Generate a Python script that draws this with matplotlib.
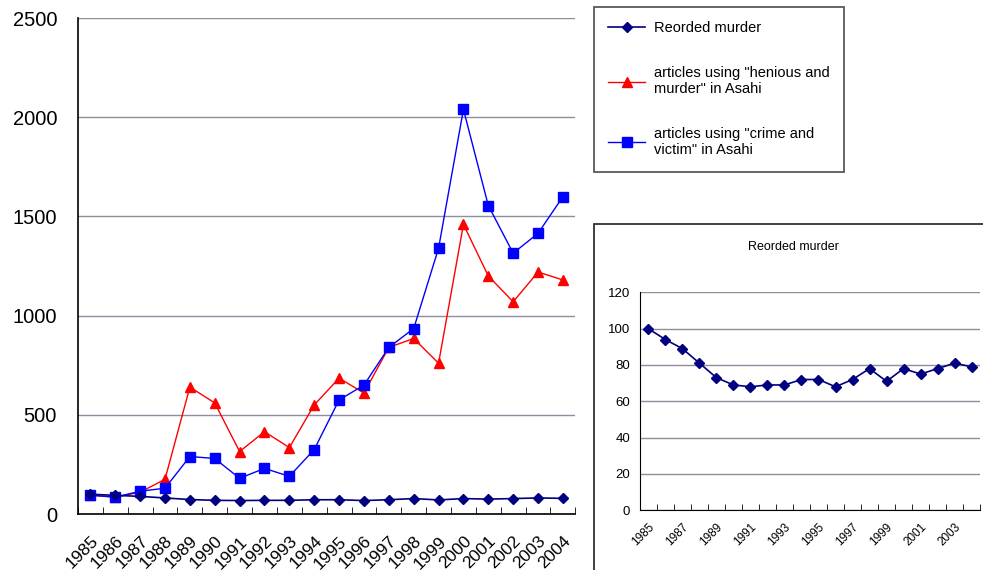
import matplotlib
matplotlib.use("Agg")
import matplotlib.pyplot as plt
import numpy as np
from matplotlib.patches import Rectangle

plt.rcParams['font.family'] = ['Liberation Sans', 'DejaVu Sans']

# data
years = [str(y) for y in range(1985, 2005)]
murder = [100, 94, 89, 81, 73, 69, 68, 69, 69, 72, 72, 68, 72, 78, 71, 78, 75, 78, 81, 79]
henious = [95, 85, 110, 175, 640, 560, 315, 415, 335, 550, 685, 610, 840, 885, 760, 1460, 1200, 1070, 1220, 1180]
crime = [95, 85, 115, 130, 290, 280, 180, 230, 190, 325, 575, 650, 840, 935, 1340, 2040, 1555, 1315, 1415, 1600]

lab_murder = "Reorded murder"
lab_henious = 'articles using "henious and\nmurder" in Asahi'
lab_crime = 'articles using "crime and\nvictim" in Asahi'

navy = '#000080'
red = '#ff0000'
blue = '#0000ff'
grid_c = '#8e8e9e'

fig = plt.figure(figsize=(9.83, 5.70), dpi=100)
x = np.arange(len(years))

# main chart
ax = fig.add_axes([0.0793, 0.0982, 0.506, 0.870])
ax.plot(x, murder, color=navy, marker='D', ms=5, lw=1.2, label=lab_murder, zorder=3)
ax.plot(x, henious, color=red, marker='^', ms=7, lw=1.0, label=lab_henious, zorder=2)
ax.plot(x, crime, color=blue, marker='s', ms=7, lw=1.0, label=lab_crime, zorder=2.5)
ax.set_xlim(-0.5, len(years) - 0.5)
ax.set_ylim(0, 2500)
ax.set_yticks(range(0, 2501, 500))
ax.tick_params(axis='y', labelsize=14.5, length=0, pad=15)
ax.set_xticks(x)
ax.set_xticklabels(years, rotation=45, ha='right', rotation_mode='anchor', fontsize=12.5)
ax.tick_params(axis='x', which='major', length=0, pad=14)
ax.set_xticks(np.arange(-0.5, len(years)), minor=True)
ax.tick_params(axis='x', which='minor', length=5, direction='in')
ax.yaxis.grid(True, color=grid_c, lw=1)
ax.set_axisbelow(True)
for s in ['top', 'right']:
    ax.spines[s].set_visible(False)
ax.spines['left'].set_linewidth(1.2)
ax.spines['bottom'].set_linewidth(1.2)

# legend box
leg = fig.legend(handles=ax.get_lines(), loc='upper left', bbox_to_anchor=(0.604, 0.988),
                 fontsize=10.5, frameon=True, fancybox=False, labelspacing=2.1,
                 handlelength=2.5, handletextpad=0.6, borderpad=1.0, borderaxespad=0)
leg.get_frame().set_edgecolor('#303030')
leg.get_frame().set_linewidth(1.3)

# inset box
fig.patches.append(Rectangle((0.604, -0.01), 0.41, 0.617, transform=fig.transFigure,
                             fill=False, edgecolor='#303030', lw=1.3))
fig.text(0.807, 0.567, "Reorded murder", ha='center', va='center', fontsize=9)

ax2 = fig.add_axes([0.651, 0.105, 0.346, 0.382])
ax2.plot(x, murder, color=navy, marker='D', ms=5.5, lw=1.2)
ax2.set_xlim(-0.5, len(years) - 0.5)
ax2.set_ylim(0, 120)
ax2.set_yticks(range(0, 121, 20))
ax2.tick_params(axis='y', labelsize=9.5, length=0, pad=7)
ax2.set_xticks(x[::2])
ax2.set_xticklabels(years[::2], rotation=45, ha='right', rotation_mode='anchor', fontsize=8.5)
ax2.tick_params(axis='x', which='major', length=0, pad=8)
ax2.set_xticks(np.arange(-0.5, len(years)), minor=True)
ax2.tick_params(axis='x', which='minor', length=4, direction='in')
ax2.yaxis.grid(True, color=grid_c, lw=1)
ax2.set_axisbelow(True)
for s in ['top', 'right']:
    ax2.spines[s].set_visible(False)

fig.savefig('out.png', dpi=100)
